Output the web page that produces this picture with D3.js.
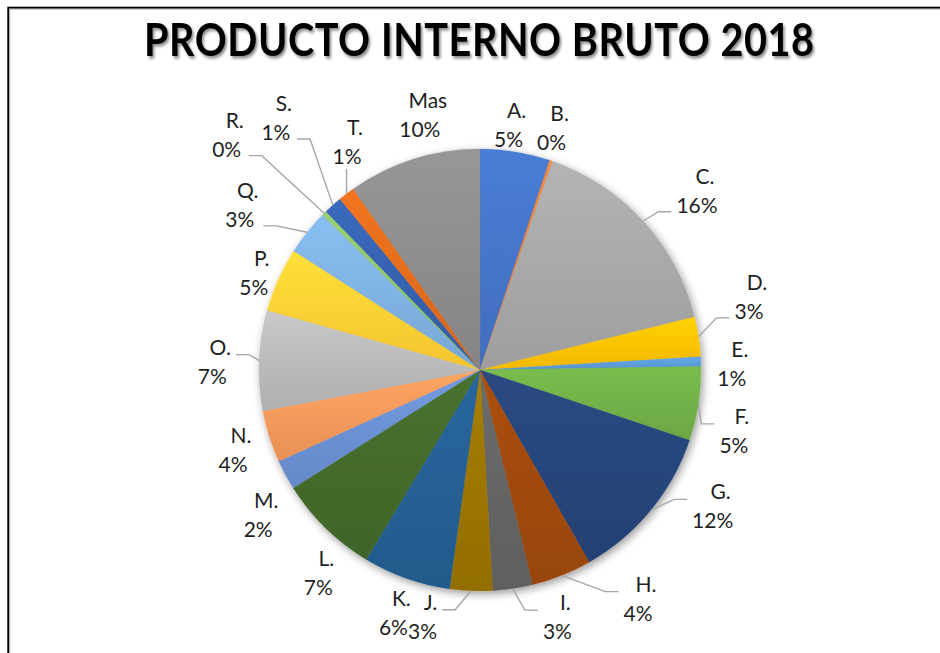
<!DOCTYPE html>
<html>
<head>
<meta charset="utf-8">
<script src="https://cdn.jsdelivr.net/npm/d3@7"></script>
<style>
  body { margin: 0; background: #fff; }
  text { font-family: Lato, "Open Sans", sans-serif; }
</style>
</head>
<body>
<div id="chart"></div>
<script>
// datos del grafico (porcentaje del PIB por sector)
var categories = ["A.", "B.", "C.", "D.", "E.", "F.", "G.", "H.", "I.", "J.",
                  "K.", "L.", "M.", "N.", "O.", "P.", "Q.", "R.", "S.", "T.", "Mas"];
var shares = [5.1, 0.2, 15.8, 2.9, 0.7, 5.4, 11.6, 4.4, 2.9, 3.1,
              6.4, 7.4, 2.2, 3.8, 7.3, 4.7, 3.3, 0.36, 1.35, 1.2, 9.7];
var colors = ["#4472C4", "#ED7D31", "#A5A5A5", "#FFC000", "#5B9BD5", "#70AD47",
              "#264478", "#9E480E", "#636363", "#997300", "#255E91", "#43682B",
              "#698ED0", "#F1975A", "#B7B7B7", "#FFCD33", "#7CAFDD", "#8CC168",
              "#3560AB", "#DE6A1D", "#8A8A8A"];
var title = "PRODUCTO INTERNO BRUTO 2018";

var width = 940;
var height = 653;
var cx = 480;
var cy = 370;
var radius = 221;
var labelRadius = 260;

// ajustes de posicion de etiquetas (como las coloca Excel)
var labelShift = {
    "A.": [-13, 13], "B.": [-12, 5], "C.": [25, -3], "D.": [12, -33], "E.": [-8, 5],
    "F.": [-3, 22], "G.": [32, -28], "H.": [62, -12], "I.": [39, -9], "J.": [-47, -12],
    "K.": [0, -1], "L.": [20, 18], "M.": [7, 23], "N.": [1, 3], "O.": [-8, 4],
    "P.": [11, 10], "Q.": [-37, -2], "R.": [-70, -50], "S.": [-31, -57], "T.": [24, -20],
    "Mas": [18, -6]
};
var withLeader = ["C.", "D.", "F.", "G.", "H.", "I.", "J.", "O.", "Q.", "R.", "S.", "T."];

var dataset = categories.map(function(c, i) {
    return { id: c, value: shares[i], color: colors[i] };
});
var total = d3.sum(shares);
var fmt = d3.format(".0%");

var svg = d3.select("#chart").append("svg")
    .attr("width", width)
    .attr("height", height);

var defs = svg.append("defs");

// sombra del pastel
var shadow = defs.append("filter").attr("id", "pieShadow")
    .attr("x", "-20%").attr("y", "-20%").attr("width", "140%").attr("height", "140%");
shadow.append("feDropShadow")
    .attr("dx", 2).attr("dy", 3).attr("stdDeviation", 4)
    .attr("flood-color", "#000").attr("flood-opacity", 0.4);

var titleShadow = defs.append("filter").attr("id", "titleShadow");
titleShadow.append("feDropShadow")
    .attr("dx", 2).attr("dy", 2.5).attr("stdDeviation", 1.5)
    .attr("flood-color", "#000").attr("flood-opacity", 0.45);

// degradados por sector
dataset.forEach(function(d, i) {
    var g = defs.append("linearGradient").attr("id", "grad" + i)
        .attr("x1", 0).attr("y1", 0).attr("x2", 0).attr("y2", 1);
    g.append("stop").attr("offset", "0%").attr("stop-color", d3.color(d.color).brighter(0.25));
    g.append("stop").attr("offset", "100%").attr("stop-color", d3.color(d.color).darker(0.12));
});

// marco
svg.append("rect")
    .attr("x", 8.3).attr("y", 7.7)
    .attr("width", width + 20).attr("height", height + 20)
    .attr("fill", "none").attr("stroke", "#000").attr("stroke-width", 2);
svg.append("rect")
    .attr("x", 9.8).attr("y", 9.2)
    .attr("width", width + 20).attr("height", height + 20)
    .attr("fill", "none").attr("stroke", "#bbb").attr("stroke-width", 1);

// titulo (letra mas estrecha y espaciada, como Calibri)
svg.append("g")
    .attr("transform", "translate(479,56) scale(0.88,1)")
    .append("text")
        .attr("x", 0)
        .attr("y", 0)
        .attr("text-anchor", "middle")
        .attr("textLength", 670 / 0.88)
        .attr("lengthAdjust", "spacing")
        .attr("filter", "url(#titleShadow)")
        .style("font-size", "45px")
        .style("font-weight", "700")
        .style("fill", "#000")
        .text(title);

var pie = d3.pie().sort(null).value(function(d) { return d.value; });
var arcs = pie(dataset);

var arc = d3.arc().innerRadius(0).outerRadius(radius);
var labelArc = d3.arc().innerRadius(labelRadius).outerRadius(labelRadius);

var chart = svg.append("g")
    .attr("transform", "translate(" + cx + "," + cy + ")");

chart.append("g")
    .attr("filter", "url(#pieShadow)")
    .selectAll("path")
    .data(arcs)
    .enter()
    .append("path")
        .attr("d", arc)
        .attr("fill", function(d, i) { return "url(#grad" + i + ")"; })
        .attr("stroke", function(d) { return d.data.color; })
        .attr("stroke-width", 0.3);

// etiquetas
var leaders = chart.append("g");
var labels = chart.append("g");

arcs.forEach(function(d) {
    var c = labelArc.centroid(d);
    var s = labelShift[d.data.id] || [0, 0];
    var lx = c[0] + s[0];
    var ly = c[1] + s[1];

    var t = labels.append("text")
        .attr("text-anchor", "middle")
        .style("font-size", "21px")
        .style("fill", "#1f1f1f");
    t.append("tspan").attr("x", lx + 8).attr("y", ly - 8).text(d.data.id);
    t.append("tspan").attr("x", lx).attr("y", ly + 21).text(fmt(d.data.value / total));

    if (withLeader.indexOf(d.data.id) < 0) return;

    var box = t.node().getBBox();
    var mid = (d.startAngle + d.endAngle) / 2;
    var sx = radius * Math.sin(mid);
    var sy = -radius * Math.cos(mid);
    var pts;
    if (sx > box.x && sx < box.x + box.width) {
        pts = [[sx, sy], [sx, ly + 26]];
    } else {
        var ay = ly < -40 ? ly + 20 : ly - 8;
        var right = lx > sx;
        var ex = right ? box.x - 5 : box.x + box.width + 5;
        var bx = right ? ex - 13 : ex + 13;
        pts = [[sx, sy], [bx, ay], [ex, ay]];
    }
    leaders.append("path")
        .attr("d", d3.line()(pts))
        .attr("fill", "none")
        .attr("stroke", "#a6a6a6")
        .attr("stroke-width", 1.4);
});
</script>
</body>
</html>
